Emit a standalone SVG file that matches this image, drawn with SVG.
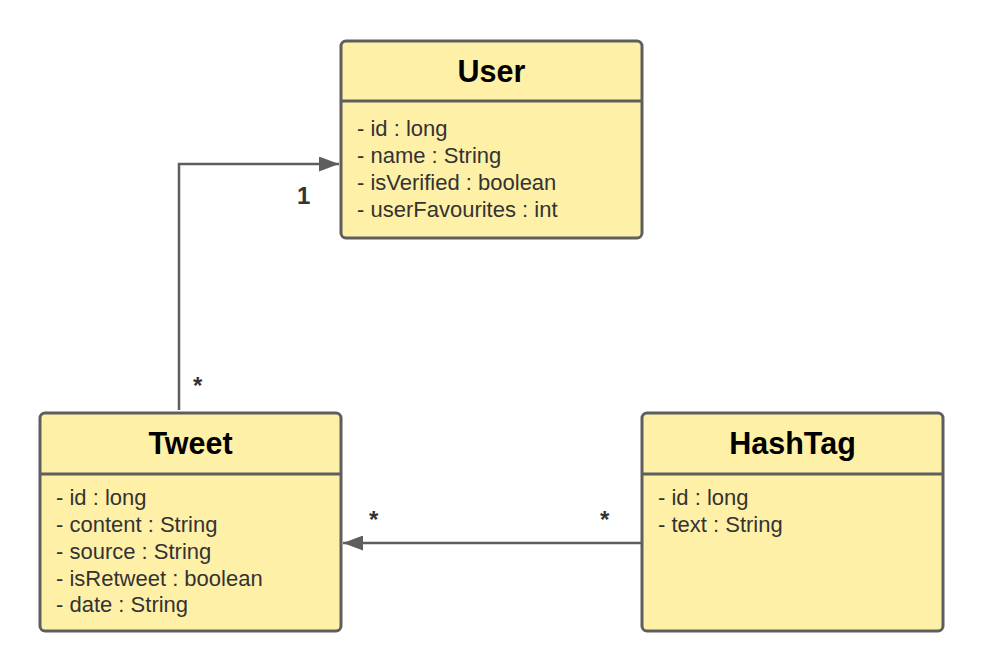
<svg xmlns="http://www.w3.org/2000/svg" width="983" height="671" viewBox="0 0 983 671">
<style>
.box{fill:#fff0a8;stroke:#5e5e5e;stroke-width:3}
.sep{stroke:#5e5e5e;stroke-width:3}
.title{font-family:"Liberation Sans",Arial,sans-serif;font-weight:bold;font-size:30.5px;fill:#000;text-anchor:middle}
.attr{font-family:"Liberation Sans",Arial,sans-serif;font-size:22px;fill:#333}
.conn{fill:none;stroke:#5e5e5e;stroke-width:2.5}
.mult{font-family:"Liberation Sans",Arial,sans-serif;font-weight:bold;font-size:24px;fill:#333}
</style>
<defs>
<marker id="arr" markerWidth="8" markerHeight="6" refX="8" refY="3" orient="auto" markerUnits="strokeWidth">
<path d="M0,0 L8,3 L0,6 Z" fill="#5e5e5e"/>
</marker>
</defs>
<rect width="983" height="671" fill="#fff"/>
<g id="connectors">
<path class="conn" d="M179,410 V164 H339" marker-end="url(#arr)"/>
<path class="conn" d="M641,543 H343" marker-end="url(#arr)"/>
<text class="mult" x="297" y="204">1</text>
<text class="mult" x="193" y="394">*</text>
<text class="mult" x="369" y="528">*</text>
<text class="mult" x="600" y="528">*</text>
</g>
<g id="User">
<rect class="box" x="341" y="41" width="301" height="197" rx="5"/>
<line class="sep" x1="341" y1="101" x2="642" y2="101"/>
<text class="title" x="491.5" y="82">User</text>
<text class="attr" x="357" y="136">- id : long</text>
<text class="attr" x="357" y="163">- name : String</text>
<text class="attr" x="357" y="190">- isVerified : boolean</text>
<text class="attr" x="357" y="217">- userFavourites : int</text>
</g>
<g id="Tweet">
<rect class="box" x="40" y="413" width="301" height="218" rx="5"/>
<line class="sep" x1="40" y1="474" x2="341" y2="474"/>
<text class="title" x="190.5" y="454">Tweet</text>
<text class="attr" x="56" y="505">- id : long</text>
<text class="attr" x="56" y="532">- content : String</text>
<text class="attr" x="56" y="559">- source : String</text>
<text class="attr" x="56" y="586">- isRetweet : boolean</text>
<text class="attr" x="56" y="612">- date : String</text>
</g>
<g id="HashTag">
<rect class="box" x="642" y="413" width="301" height="218" rx="5"/>
<line class="sep" x1="642" y1="474" x2="943" y2="474"/>
<text class="title" x="792.5" y="454">HashTag</text>
<text class="attr" x="658" y="505">- id : long</text>
<text class="attr" x="658" y="532">- text : String</text>
</g>
</svg>
